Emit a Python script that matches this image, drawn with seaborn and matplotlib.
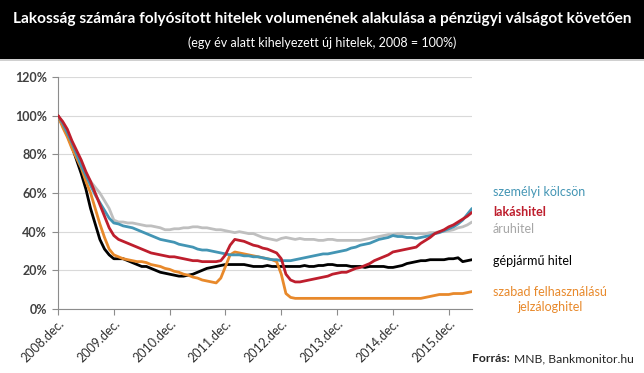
import numpy as np
import pandas as pd
import seaborn as sns
import matplotlib.pyplot as plt

# monthly values, 2008.dec = 100% (2008.dec .. 2016.máj.)
szemelyi = [100, 96, 91, 86, 80, 74, 69, 64, 59, 55, 51, 47, 44.5, 44, 43, 42.5, 42, 41, 40, 39,
            38, 37, 36, 35.5, 35, 34.5, 33.5, 33, 32.5, 32, 31, 30.5, 30.5, 30, 29.5, 29, 28.5, 28, 28, 28,
            27.5, 27.5, 27, 27, 26.5, 26, 25.5, 25.5, 25, 25, 25, 25.5, 26, 26.5, 27, 27.5, 28, 28.5, 28.5, 29,
            29.5, 30, 30.5, 31.5, 32, 33, 33.5, 34, 35, 36, 36.5, 37, 38, 37.5, 37.5, 37, 37, 36.5, 37, 37.5,
            38, 39, 39.5, 40.5, 41.5, 42.5, 44, 46, 49, 52]
lakas = [100, 97, 93, 87, 82, 77, 71, 66, 60, 54, 48, 42, 38, 36, 35, 34, 33, 32, 31, 30,
         29, 28.5, 28, 27.5, 27, 27, 26.5, 26, 25.5, 25, 25, 24.5, 24.5, 24.5, 24.5, 25, 28, 33, 36, 35.5,
         35, 34, 33, 32.5, 31.5, 31, 30, 29, 26, 18, 15, 14, 14, 14.5, 15, 15.5, 16, 16.5, 17, 18,
         18.5, 19, 19, 20, 21, 21.5, 22.5, 23.5, 25, 26, 27, 28, 29.5, 30, 30.5, 31, 31.5, 32, 34, 35.5,
         37, 39, 40, 41, 42.5, 43.5, 45, 46.5, 48, 50]
aru = [100, 96, 91, 86, 80, 75, 70, 66, 63, 60, 56, 52, 46, 45, 45, 44.5, 44.5, 44, 43.5, 43,
       43, 42.5, 42, 41, 41, 41.5, 41.5, 42, 42, 42.5, 42.5, 42, 42, 41.5, 41, 41, 40.5, 40, 39.5, 40,
       39.5, 39, 39, 38, 37, 36.5, 36, 35.5, 36.5, 37, 36.5, 36, 36.5, 36, 36, 36, 35.5, 35.5, 36, 36,
       35.5, 35.5, 35.5, 35.5, 35.5, 35.5, 36, 36.5, 37, 37.5, 38, 38.5, 38.5, 39, 39, 39, 39, 39, 39, 39,
       39.5, 39.5, 40, 40, 40.5, 41, 42, 42.5, 43.5, 45]
gepjarmu = [100, 95, 90, 84, 77, 70, 62, 52, 44, 36, 31, 28, 26, 26, 26, 25, 24, 23, 22, 22,
            21, 20, 19, 18.5, 18, 17.5, 17, 17, 17.5, 18, 19, 20, 21, 21.5, 22, 22.5, 23, 23, 23, 23,
            23, 22.5, 22, 22, 22, 22.5, 22, 22, 22, 22, 22, 22, 22, 22.5, 22, 22, 22.5, 22.5, 23, 23,
            22.5, 22.5, 22.5, 22, 22, 22, 21.5, 22, 22, 22, 22, 21.5, 21.5, 22, 22.5, 23.5, 24, 24.5, 25, 25,
            25.5, 25.5, 25.5, 25.5, 26, 26, 26.5, 24.5, 25, 25.5]
szabad = [100, 94, 89, 83, 78, 73, 66, 60, 52, 44, 37, 31, 28, 27, 26, 25.5, 25, 24.5, 24.5, 24,
          23, 22.5, 22, 21, 20.5, 19.5, 19, 18, 17.5, 16.5, 16, 15, 14.5, 14, 13.5, 16, 22, 28, 29.5, 29,
          28.5, 28, 27.5, 27, 26.5, 26, 25.5, 24.5, 18, 8, 6, 5.5, 5.5, 5.5, 5.5, 5.5, 5.5, 5.5, 5.5, 5.5,
          5.5, 5.5, 5.5, 5.5, 5.5, 5.5, 5.5, 5.5, 5.5, 5.5, 5.5, 5.5, 5.5, 5.5, 5.5, 5.5, 5.5, 5.5, 5.5, 6,
          6.5, 7, 7.5, 7.5, 7.5, 8, 8, 8, 8.5, 9]

tick_labels = ["2008.dec.", "2009.dec.", "2010.dec.", "2011.dec.",
               "2012.dec.", "2013.dec.", "2014.dec.", "2015.dec."]

series = {
    "áruhitel": aru,
    "gépjármű hitel": gepjarmu,
    "szabad felhasználású jelzáloghitel": szabad,
    "személyi kölcsön": szemelyi,
    "lakáshitel": lakas,
}
colors = {
    "személyi kölcsön": "#4395b4",
    "lakáshitel": "#be1e2d",
    "áruhitel": "#bfbfbf",
    "gépjármű hitel": "#000000",
    "szabad felhasználású jelzáloghitel": "#e8892b",
}

frames = []
for name, vals in series.items():
    frames.append(pd.DataFrame({"honap": np.arange(len(vals)), "ertek": vals, "hitel": name}))
df = pd.concat(frames, ignore_index=True)

sns.set_style("white")
plt.rcParams["font.family"] = ["Lato", "DejaVu Sans"]

fig = plt.figure(figsize=(6.44, 3.73), dpi=100)

# black header band
fig.patches.append(plt.Rectangle((0, 1 - 59 / 373), 1, 59 / 373, transform=fig.transFigure,
                                 facecolor="black", edgecolor="none", zorder=0))
fig.patches.append(plt.Rectangle((0, 1 - 61 / 373), 1, 2 / 373, transform=fig.transFigure,
                                 facecolor="#d0d0d0", edgecolor="none", zorder=0))
fig.text(0.5, 1 - 19 / 373, "Lakosság számára folyósított hitelek volumenének alakulása a pénzügyi válságot követően",
         ha="center", va="center", color="white", fontsize=11.1, fontweight="bold")
fig.text(0.5, 1 - 43 / 373, "(egy év alatt kihelyezett új hitelek, 2008 = 100%)",
         ha="center", va="center", color="white", fontsize=9)

ax = fig.add_axes([58 / 644, 1 - 309 / 373, (472 - 58) / 644, (309 - 77) / 373])
sns.lineplot(data=df, x="honap", y="ertek", hue="hitel", palette=colors,
             hue_order=list(series.keys()), linewidth=2.0, legend=False, ax=ax, zorder=3)
ax.set_xlim(0, len(szemelyi) - 1)
ax.set_ylim(0, 120)
ax.set_yticks(range(0, 121, 20))
ax.set_yticklabels([f"{v}%" for v in range(0, 121, 20)], fontsize=9, fontweight="bold", color="#404040")
ax.set_xticks(np.arange(0, 12 * len(tick_labels), 12))
ax.set_xticklabels(tick_labels, rotation=45, ha="right", rotation_mode="anchor",
                   fontsize=9, color="#303030")
ax.set_xlabel("")
ax.set_ylabel("")
ax.grid(axis="y", color="#d9d9d9", linewidth=0.8)
ax.set_axisbelow(True)
for s in ["top", "right"]:
    ax.spines[s].set_visible(False)
for s in ["left", "bottom"]:
    ax.spines[s].set_color("#8c8c8c")
    ax.spines[s].set_linewidth(0.8)
ax.tick_params(axis="x", bottom=True, direction="out", length=4, color="#8c8c8c", pad=2)
ax.tick_params(axis="y", left=True, direction="out", length=4, color="#8c8c8c", pad=4)

# labels at the right instead of a legend
lab = [
    ("személyi kölcsön", 192, "normal"),
    ("lakáshitel", 212, "bold"),
    ("áruhitel", 229, "normal"),
    ("gépjármű hitel", 261, "normal"),
]
label_colors = {"áruhitel": "#a6a6a6"}
for text, y, fw in lab:
    fig.text(493 / 644, 1 - y / 373, text, ha="left", va="center", fontsize=9,
             color=label_colors.get(text, colors[text]), fontweight=fw)
fig.text(550 / 644, 1 - 292 / 373, "szabad felhasználású", ha="center", va="center", fontsize=9,
         color=colors["szabad felhasználású jelzáloghitel"])
fig.text(550 / 644, 1 - 307 / 373, "jelzáloghitel", ha="center", va="center", fontsize=9,
         color=colors["szabad felhasználású jelzáloghitel"])

fig.text(472 / 644, 1 - 359 / 373, "Forrás:", ha="left", va="center", fontsize=8.7, fontweight="bold")
fig.text(514 / 644, 1 - 359 / 373, "MNB, Bankmonitor.hu", ha="left", va="center", fontsize=8.7)

fig.savefig("out.png", dpi=100)
